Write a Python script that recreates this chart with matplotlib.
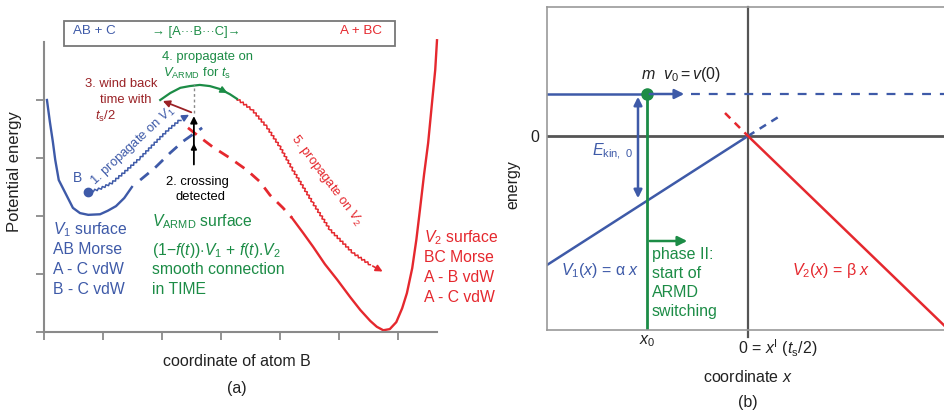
import matplotlib
matplotlib.use("Agg")
import matplotlib.pyplot as plt
from matplotlib.patches import Rectangle

plt.rcParams['font.family'] = ['Liberation Sans', 'DejaVu Sans']
plt.rcParams['mathtext.fontset'] = 'custom'
plt.rcParams['mathtext.rm'] = 'Liberation Sans'
plt.rcParams['mathtext.it'] = 'Liberation Sans:italic'
plt.rcParams['mathtext.bf'] = 'Liberation Sans:bold'

# ---------------- data (panel a: schematic potential curves) ----------------
v1_solid_x = [0.05, 0.10, 0.15, 0.19, 0.25, 0.36, 0.49, 0.61, 0.75, 0.95, 1.08, 1.22, 1.36, 1.49]
v1_solid_y = [4.00, 3.62, 3.28, 2.97, 2.62, 2.40, 2.14, 2.05, 2.02, 2.03, 2.09, 2.17, 2.31, 2.50]
v1_dash_x = [1.63, 1.88, 2.14, 2.36, 2.68]
v1_dash_y = [2.62, 2.83, 3.09, 3.29, 3.52]
v2_dash_x = [2.44, 2.64, 2.86, 3.15, 3.44, 3.66, 3.83, 4.05, 4.20]
v2_dash_y = [3.52, 3.36, 3.19, 3.00, 2.79, 2.59, 2.36, 2.14, 1.97]
v2_solid_x = [4.20, 4.39, 4.56, 4.76, 4.97, 5.19, 5.36, 5.53, 5.64, 5.75, 5.86, 5.97,
              6.07, 6.15, 6.24, 6.31, 6.37, 6.44, 6.51, 6.58, 6.63, 6.66]
v2_solid_y = [1.97, 1.71, 1.47, 1.17, 0.90, 0.60, 0.38, 0.19, 0.09, 0.03, 0.05, 0.17,
              0.41, 0.67, 1.10, 1.59, 2.10, 2.71, 3.26, 4.00, 4.52, 5.03]
traj1_x = [0.75, 0.95, 1.15, 1.37, 1.63, 1.88, 2.10, 2.31, 2.50]
traj1_y = [2.41, 2.47, 2.57, 2.76, 3.00, 3.26, 3.48, 3.66, 3.77]
armd_x = [1.97, 2.14, 2.31, 2.47, 2.64, 2.81, 2.98, 3.15, 3.27]
armd_y = [4.00, 4.12, 4.21, 4.24, 4.26, 4.24, 4.19, 4.10, 4.02]
traj5_x = [3.27, 3.53, 3.78, 4.00, 4.22, 4.56, 4.85, 5.24, 5.53, 5.78]
traj5_y = [4.02, 3.83, 3.53, 3.19, 2.79, 2.22, 1.76, 1.36, 1.16, 1.02]
start_B = (0.75, 2.41)
crossing_x = 2.54
crossing_y0, crossing_y1 = 2.84, 3.77
windback_to = (1.97, 4.00)
a_xticks = [0, 1, 2, 3, 4, 5, 6]
a_yticks = [0, 1, 2, 3, 4]

# ---------------- data (panel b: linear model) ----------------
b_v1_x = [-2.01, 0.0]
b_v1_y = [-1.29, 0.0]
b_v1_dash_x = [0.0, 0.32]
b_v1_dash_y = [0.0, 0.20]
b_v2_x = [0.0, 2.05]
b_v2_y = [0.0, -1.98]
b_v2_dash_x = [-0.23, 0.0]
b_v2_dash_y = [0.23, 0.0]
E0 = 0.42
x0 = -1.01
x_arrow_end = -0.61
v1_at_x0 = -0.65
ekin_x = -1.10
phase2_y = -1.05
phase2_end = -0.58

BLUE = '#3e5aa8'
RED = '#e5282e'
DRED = '#9a2226'
GREEN = '#1c8c46'
GREY = '#8a8a8a'
DGREY = '#555555'
TXT = '#222222'

W, H = 944, 413
fig = plt.figure(figsize=(W / 100, H / 100), dpi=100)


def rect(l, t, r, b):
    return [l / W, 1 - b / H, (r - l) / W, (b - t) / H]


def ft(px, py, s, **kw):
    kw.setdefault('ha', 'center')
    kw.setdefault('va', 'center')
    return fig.text(px / W, 1 - py / H, s, **kw)


# ================= panel (a) =================
ax = fig.add_axes(rect(44, 42, 437, 332))
ax.set_xlim(0, 6.66)
ax.set_ylim(0, 5)
for s in ['top', 'right']:
    ax.spines[s].set_visible(False)
for s in ['left', 'bottom']:
    ax.spines[s].set_color(GREY)
    ax.spines[s].set_linewidth(1.5)
ax.set_xticks(a_xticks)
ax.set_yticks(a_yticks)
ax.set_xticklabels([])
ax.set_yticklabels([])
ax.tick_params(direction='out', length=6, width=1.3, color=GREY)

ax.plot(v1_solid_x, v1_solid_y, color=BLUE, lw=1.7, clip_on=False)
ax.plot(v1_dash_x, v1_dash_y, color=BLUE, lw=2, ls=(0, (4, 3)))
ax.plot(v2_dash_x, v2_dash_y, color=RED, lw=2, ls=(0, (4, 3)))
ax.plot(v2_solid_x, v2_solid_y, color=RED, lw=1.7, clip_on=False)

# wavy trajectories
l1, = ax.plot(traj1_x[:-1], traj1_y[:-1], color=BLUE, lw=1.1)
l1.set_sketch_params(scale=1.0, length=4, randomness=1)
ax.annotate('', xy=(traj1_x[-1], traj1_y[-1]), xytext=(traj1_x[-2], traj1_y[-2]),
            arrowprops=dict(arrowstyle='-|>', color=BLUE, lw=1.2, mutation_scale=10))
ax.plot(*start_B, 'o', color=BLUE, ms=6)

l5, = ax.plot(traj5_x[:-1], traj5_y[:-1], color=RED, lw=1.1)
l5.set_sketch_params(scale=1.0, length=4, randomness=1)
ax.annotate('', xy=(traj5_x[-1], traj5_y[-1]), xytext=(traj5_x[-2], traj5_y[-2]),
            arrowprops=dict(arrowstyle='-|>', color=RED, lw=1.2, mutation_scale=10))

ax.plot(armd_x, armd_y, color=GREEN, lw=1.6)
ax.annotate('', xy=(armd_x[-2], armd_y[-2]), xytext=(armd_x[-3], armd_y[-3]),
            arrowprops=dict(arrowstyle='-|>', color=GREEN, lw=1.2, mutation_scale=10))

ax.plot([crossing_x, crossing_x], [crossing_y1, 4.28], color=GREY, lw=1, ls=(0, (2, 2)))
ax.annotate('', xy=(crossing_x, crossing_y1), xytext=(crossing_x, crossing_y0),
            arrowprops=dict(arrowstyle='-|>', color='black', lw=1.3, mutation_scale=10))
ax.annotate('', xy=(crossing_x, 3.30), xytext=(crossing_x, 3.10),
            arrowprops=dict(arrowstyle='-|>', color='black', lw=1.3, mutation_scale=8))
ax.annotate('', xy=windback_to, xytext=(crossing_x, crossing_y1),
            arrowprops=dict(arrowstyle='-|>', color=DRED, lw=1.3, mutation_scale=10))

# header box
fig.patches.append(Rectangle((64 / W, 1 - 46 / H), 331 / W, 25 / H, transform=fig.transFigure,
                             fill=False, ec='#777777', lw=1.3))
ft(73, 31, 'AB + C', color=BLUE, fontsize=9.6, ha='left')
ft(152, 32, '\u2192 [A\u00b7\u00b7\u00b7B\u00b7\u00b7\u00b7C]\u2192', color=GREEN, fontsize=9.3, ha='left')
ft(340, 31, 'A + BC', color=RED, fontsize=9.6, ha='left')

# annotations
AF = 9.4
ft(121, 84, '3. wind back', color=DRED, fontsize=AF)
ft(126, 100, 'time with', color=DRED, fontsize=AF)
ft(95, 116, r'$t_\mathrm{s}$/2', color=DRED, fontsize=AF, ha='left')
ft(207, 57, '4. propagate on', color=GREEN, fontsize=AF)
ft(163, 73, r'$V_{\mathrm{ARMD}}$ for $t_\mathrm{s}$', color=GREEN, fontsize=AF, ha='left')
ft(197, 182, '2. crossing', color='black', fontsize=AF)
ft(200, 197, 'detected', color='black', fontsize=AF)
ft(133, 146, r'1. propagate on $V_1$', color=BLUE, fontsize=AF, rotation=43,
   rotation_mode='anchor')
ft(327, 180, r'5. propagate on $V_2$', color=RED, fontsize=AF, rotation=-53,
   rotation_mode='anchor')
ft(77, 178, 'B', color=BLUE, fontsize=10)

BF = 11.3
for i, s in enumerate([r'$V_1$ surface', 'AB Morse', 'A - C vdW', 'B - C vdW']):
    ft(53, 230 + 20 * i, s, color=BLUE, fontsize=BF, ha='left')
green_lines = [r'$V_{\mathrm{ARMD}}$ surface', r'(1$-$$f$($t$))$\cdot$$V_1$ + $f$($t$).$V_2$',
               'smooth connection', 'in TIME']
green_y = [222, 250, 270, 290]
for s, yy in zip(green_lines, green_y):
    ft(152, yy, s, color=GREEN, fontsize=BF, ha='left')
for i, s in enumerate([r'$V_2$ surface', 'BC Morse', 'A - B vdW', 'A - C vdW']):
    ft(424, 238 + 20 * i, s, color=RED, fontsize=BF, ha='left')

ft(15, 172, 'Potential energy', fontsize=12, rotation=90, color=TXT)
ft(237, 362, 'coordinate of atom B', fontsize=11.5, color=TXT)
ft(237, 388, '(a)', fontsize=11.5, color=TXT)

# ================= panel (b) =================
bx = fig.add_axes(rect(547, 7, 946, 330))
bx.set_xlim(-2.01, 1.98)
bx.set_ylim(-1.94, 1.29)
for s in bx.spines.values():
    s.set_color('#999999')
    s.set_linewidth(1.2)
bx.set_xticks([])
bx.set_yticks([])

bx.axhline(0, color=DGREY, lw=2)
bx.plot([0, 0], [-2.01, 1.29], color=DGREY, lw=1.6, clip_on=False)

bx.plot(b_v1_x, b_v1_y, color=BLUE, lw=1.8)
bx.plot(b_v1_dash_x, b_v1_dash_y, color=BLUE, lw=1.8, ls=(0, (3, 2.5)))
bx.plot(b_v2_x, b_v2_y, color=RED, lw=1.8)
bx.plot(b_v2_dash_x, b_v2_dash_y, color=RED, lw=1.8, ls=(0, (3, 2.5)))

bx.plot([-2.01, x0], [E0, E0], color=BLUE, lw=1.8)
bx.annotate('', xy=(x_arrow_end, E0), xytext=(x0, E0),
            arrowprops=dict(arrowstyle='-|>', color=BLUE, lw=1.8, mutation_scale=14))
bx.plot([x_arrow_end + 0.04, 1.98], [E0, E0], color=BLUE, lw=1.6, ls=(0, (4, 4)))

bx.plot([x0, x0], [E0, -1.94], color=GREEN, lw=2)
bx.plot(x0, E0, 'o', color=GREEN, ms=8)
bx.annotate('', xy=(phase2_end, phase2_y), xytext=(x0, phase2_y),
            arrowprops=dict(arrowstyle='-|>', color=GREEN, lw=1.8, mutation_scale=14))
bx.annotate('', xy=(ekin_x, v1_at_x0), xytext=(ekin_x, E0),
            arrowprops=dict(arrowstyle='<|-|>', color=BLUE, lw=1.8, mutation_scale=12))

PF = 11.5
ft(612, 152, r'$E_{\mathrm{kin,\ 0}}$', color=BLUE, fontsize=PF)
ft(681, 75, r'$m\ \ v_0 = v$(0)', color=TXT, fontsize=PF)
for i, s in enumerate(['phase II:', 'start of', 'ARMD', 'switching']):
    ft(652, 254 + 19.3 * i, s, color=GREEN, fontsize=PF, ha='left')
ft(600, 271, r'$V_1$($x$) = ' + '\u03b1 ' + r'$x$', color=BLUE, fontsize=PF)
ft(831, 271, r'$V_2$($x$) = ' + '\u03b2 ' + r'$x$', color=RED, fontsize=PF)
ft(535, 137, '0', fontsize=PF, color=TXT)
ft(647, 341, r'$x_0$', fontsize=PF, color=TXT)
ft(738, 348, r'0 = $x^{\mathrm{I}}$ ($t_\mathrm{s}$/2)', fontsize=PF, color=TXT, ha='left')
ft(748, 377, r'coordinate $x$', fontsize=PF, color=TXT)
ft(748, 403, '(b)', fontsize=PF, color=TXT)
ft(513, 185, 'energy', fontsize=PF, rotation=90, color=TXT)

fig.savefig('out.png', dpi=100)
